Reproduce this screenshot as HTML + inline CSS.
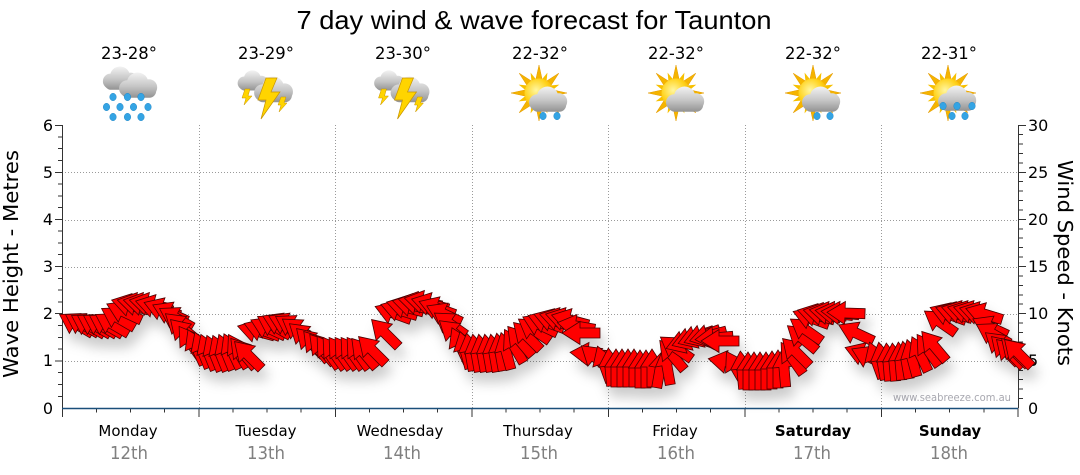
<!DOCTYPE html>
<html><head><meta charset="utf-8"><style>
html,body{margin:0;padding:0;background:#fff;}
svg{display:block;}
text{font-family:"DejaVu Sans","Liberation Sans",sans-serif;}
</style></head><body>
<svg width="1080" height="475" viewBox="0 0 1080 475" xmlns="http://www.w3.org/2000/svg">
<defs>
<linearGradient id="cg" gradientUnits="userSpaceOnUse" x1="0" y1="0" x2="0" y2="26">
<stop offset="0" stop-color="#f4f4f4"/><stop offset="0.55" stop-color="#c4c4c4"/><stop offset="1" stop-color="#8e8e8e"/></linearGradient>
<radialGradient id="sg" cx="0.4" cy="0.4" r="0.7"><stop offset="0" stop-color="#fff6a0"/><stop offset="0.6" stop-color="#ffd21a"/><stop offset="1" stop-color="#f0a800"/></radialGradient>
<g id="cl" fill="url(#cg)">
<circle cx="10" cy="16" r="8"/><circle cx="20" cy="11" r="10.5"/><circle cx="31" cy="15" r="8"/><rect x="4" y="12" width="34" height="13" rx="6.5"/>
</g>
<polygon id="ry" points="-3.5,-12 0,-28 3.5,-12" fill="#f5b400" stroke="#e39a00" stroke-width="0.5"/>
<polygon id="rs" points="-3,-12 0,-22 3,-12" fill="#f7c000"/>
<g id="sun">
<use href="#ry"/><use href="#ry" transform="rotate(45)"/><use href="#ry" transform="rotate(90)"/><use href="#ry" transform="rotate(135)"/><use href="#ry" transform="rotate(180)"/><use href="#ry" transform="rotate(225)"/><use href="#ry" transform="rotate(270)"/><use href="#ry" transform="rotate(315)"/>
<use href="#rs" transform="rotate(22.5)"/><use href="#rs" transform="rotate(67.5)"/><use href="#rs" transform="rotate(112.5)"/><use href="#rs" transform="rotate(157.5)"/><use href="#rs" transform="rotate(202.5)"/><use href="#rs" transform="rotate(247.5)"/><use href="#rs" transform="rotate(292.5)"/><use href="#rs" transform="rotate(337.5)"/>
<circle r="14.5" fill="url(#sg)"/>
</g>
<ellipse id="dr" rx="3.3" ry="3.8" fill="#34a4e4" stroke="#1b7fc0" stroke-width="0.4"/>
<g id="storm">
<use href="#cl" transform="translate(236,70) scale(0.82)"/>
<use href="#cl" transform="translate(252,76) scale(1.05)"/>
<polygon points="266,78 277,78 271,92 280,92 261,119 266,100 258,100" fill="#ffd400" stroke="#c89400" stroke-width="0.7"/>
<polygon points="245,89 250,89 248,96 252,96 244,105 246,98 242,98" fill="#ffd400" stroke="#c89400" stroke-width="0.5"/>
<polygon points="281,97 286,97 284,103 287,103 279,112 281,105 278,105" fill="#ffd400" stroke="#c89400" stroke-width="0.5"/>
</g>
<polygon id="ar" points="19,0 1,-11.5 1,-5 -19,-5 -19,5 1,5 1,11.5" fill="#ff0000" stroke="#4a0000" stroke-width="0.8"/>
<filter id="sh" x="-5%" y="-30%" width="110%" height="180%">
<feDropShadow dx="4" dy="10" stdDeviation="6" flood-color="#000" flood-opacity="0.2"/>
</filter>
</defs>

<rect width="1080" height="475" fill="#fff"/>

<text x="534" y="29" font-size="26" text-anchor="middle" textLength="475" lengthAdjust="spacingAndGlyphs" style="font-family:'Liberation Sans',sans-serif">7 day wind &amp; wave forecast for Taunton</text>

<g font-size="17" text-anchor="middle" fill="#000">
<text x="129" y="59" textLength="56" lengthAdjust="spacingAndGlyphs">23-28°</text>
<text x="266" y="59" textLength="56" lengthAdjust="spacingAndGlyphs">23-29°</text>
<text x="403" y="59" textLength="56" lengthAdjust="spacingAndGlyphs">23-30°</text>
<text x="540" y="59" textLength="56" lengthAdjust="spacingAndGlyphs">22-32°</text>
<text x="676" y="59" textLength="56" lengthAdjust="spacingAndGlyphs">22-32°</text>
<text x="813" y="59" textLength="56" lengthAdjust="spacingAndGlyphs">22-32°</text>
<text x="949" y="59" textLength="56" lengthAdjust="spacingAndGlyphs">22-31°</text>
</g>

<use href="#cl" transform="translate(101,66) scale(0.95)"/>
<use href="#cl" transform="translate(117,72) scale(1.03)"/>
<use href="#dr" x="113" y="97"/><use href="#dr" x="127.5" y="97"/><use href="#dr" x="141" y="97"/>
<use href="#dr" x="106.5" y="107"/><use href="#dr" x="120" y="107"/><use href="#dr" x="133.5" y="107"/><use href="#dr" x="148" y="107"/>
<use href="#dr" x="113" y="117"/><use href="#dr" x="127.5" y="117"/><use href="#dr" x="141" y="117"/>

<use href="#storm"/>
<use href="#storm" transform="translate(136.5,0)"/>

<use href="#sun" transform="translate(539,93)"/>
<use href="#cl" transform="translate(527,86) scale(1.03)"/>
<use href="#dr" x="543" y="116"/><use href="#dr" x="557" y="116"/>

<use href="#sun" transform="translate(676,93)"/>
<use href="#cl" transform="translate(664,86) scale(1.03)"/>

<use href="#sun" transform="translate(813,93)"/>
<use href="#cl" transform="translate(800,86) scale(1.03)"/>
<use href="#dr" x="817" y="116"/><use href="#dr" x="830" y="116"/>

<use href="#sun" transform="translate(948,93)"/>
<use href="#cl" transform="translate(936,85) scale(1.03)"/>
<use href="#dr" x="943" y="106"/><use href="#dr" x="957" y="106"/><use href="#dr" x="972" y="106"/>
<use href="#dr" x="952" y="116"/><use href="#dr" x="965" y="116"/>

<g stroke="#9a9a9a" stroke-width="1" stroke-dasharray="1,2" fill="none">
<path d="M62,361.5H1018M62,314.5H1018M62,267.5H1018M62,220.5H1018M62,172.5H1018"/>
<path d="M199.5,125V408M335.5,125V408M472.5,125V408M608.5,125V408M745.5,125V408M881.5,125V408"/>
</g>

<g stroke="#333" stroke-width="1" fill="none">
<path d="M62.5,125V408M1018.5,125V408"/>
<path d="M55,125.5H62M58,137H62M58,148.5H62M58,160.5H62M55,172.5H62M58,184H62M58,196H62M58,207.5H62M55,219.5H62M58,231H62M58,243H62M58,254.5H62M55,266.5H62M58,278.5H62M58,290H62M58,302H62M55,313.5H62M58,325.5H62M58,337.5H62M58,349H62M55,361H62M58,372.5H62M58,384.5H62M58,396.5H62"/>
<path d="M1018,125.5H1026M1018,134.5H1023M1018,144H1023M1018,153.5H1023M1018,163H1023M1018,172.5H1026M1018,181.5H1023M1018,191H1023M1018,200.5H1023M1018,210H1023M1018,219.5H1026M1018,229H1023M1018,238H1023M1018,247.5H1023M1018,257H1023M1018,266.5H1026M1018,276H1023M1018,285.5H1023M1018,295H1023M1018,304H1023M1018,313.5H1026M1018,323H1023M1018,332.5H1023M1018,342H1023M1018,351.5H1023M1018,361H1026M1018,370.5H1023M1018,379.5H1023M1018,389H1023M1018,398.5H1023"/>
<path d="M62.5,408V417M96.5,408V412.5M130.5,408V412.5M164.5,408V412.5M199,408V417M233,408V412.5M267,408V412.5M301,408V412.5M335.5,408V417M369.5,408V412.5M403.5,408V412.5M437.5,408V412.5M472,408V417M506,408V412.5M540,408V412.5M574,408V412.5M608.5,408V417M642.5,408V412.5M676.5,408V412.5M710.5,408V412.5M745,408V417M779,408V412.5M813,408V412.5M847,408V412.5M881.5,408V417M915.5,408V412.5M949.5,408V412.5M984,408V412.5M1018,408V417"/>
</g>
<path d="M62,408.5H1018" stroke="#1a4f7a" stroke-width="1.6"/>

<g font-size="16" fill="#000" text-anchor="end">
<text x="53" y="131">6</text><text x="53" y="178">5</text><text x="53" y="225">4</text><text x="53" y="272">3</text><text x="53" y="319">2</text><text x="53" y="366">1</text><text x="53" y="414">0</text>
</g>
<g font-size="16" fill="#000">
<text x="1028" y="131">30</text><text x="1028" y="178">25</text><text x="1028" y="225">20</text><text x="1028" y="272">15</text><text x="1028" y="319">10</text><text x="1028" y="366">5</text><text x="1028" y="414">0</text>
</g>
<text transform="translate(18,264) rotate(-90)" font-size="20" text-anchor="middle" textLength="228" lengthAdjust="spacingAndGlyphs">Wave Height - Metres</text>
<text transform="translate(1058,263) rotate(90)" font-size="20" text-anchor="middle" textLength="206" lengthAdjust="spacingAndGlyphs">Wind Speed - Knots</text>

<g font-size="15" text-anchor="middle" fill="#000">
<text x="128" y="436">Monday</text>
<text x="266" y="436">Tuesday</text>
<text x="400" y="436">Wednesday</text>
<text x="538" y="436">Thursday</text>
<text x="675" y="436">Friday</text>
<text x="813" y="436" font-weight="bold">Saturday</text>
<text x="950" y="436" font-weight="bold">Sunday</text>
</g>
<g font-size="18" text-anchor="middle" fill="#808080">
<text x="129" y="459" textLength="38" lengthAdjust="spacingAndGlyphs">12th</text>
<text x="266" y="459" textLength="38" lengthAdjust="spacingAndGlyphs">13th</text>
<text x="402" y="459" textLength="38" lengthAdjust="spacingAndGlyphs">14th</text>
<text x="539" y="459" textLength="38" lengthAdjust="spacingAndGlyphs">15th</text>
<text x="676" y="459" textLength="38" lengthAdjust="spacingAndGlyphs">16th</text>
<text x="812" y="459" textLength="38" lengthAdjust="spacingAndGlyphs">17th</text>
<text x="949" y="459" textLength="38" lengthAdjust="spacingAndGlyphs">18th</text>
</g>
<text x="893" y="401" font-size="11" fill="#a8a8b0" textLength="118" lengthAdjust="spacingAndGlyphs">www.seabreeze.com.au</text>

<g filter="url(#sh)">
<use href="#ar" transform="translate(76,324) rotate(-150)"/>
<use href="#ar" transform="translate(82,324) rotate(-150)"/>
<use href="#ar" transform="translate(88,325) rotate(-150)"/>
<use href="#ar" transform="translate(94,325) rotate(-150)"/>
<use href="#ar" transform="translate(100,325) rotate(-150)"/>
<use href="#ar" transform="translate(106,325) rotate(-150)"/>
<use href="#ar" transform="translate(112,324) rotate(-150)"/>
<use href="#ar" transform="translate(118,318) rotate(-150)"/>
<use href="#ar" transform="translate(124,312) rotate(-155)"/>
<use href="#ar" transform="translate(130,305) rotate(-165)"/>
<use href="#ar" transform="translate(136,304) rotate(-168)"/>
<use href="#ar" transform="translate(142,304) rotate(-168)"/>
<use href="#ar" transform="translate(148,304) rotate(-168)"/>
<use href="#ar" transform="translate(154,306) rotate(-165)"/>
<use href="#ar" transform="translate(162,309) rotate(-160)"/>
<use href="#ar" transform="translate(170,313) rotate(-155)"/>
<use href="#ar" transform="translate(176,318) rotate(-150)"/>
<use href="#ar" transform="translate(180,326) rotate(-140)"/>
<use href="#ar" transform="translate(184,333) rotate(-135)"/>
<use href="#ar" transform="translate(190,342) rotate(-125)"/>
<use href="#ar" transform="translate(196,347) rotate(-115)"/>
<use href="#ar" transform="translate(202,350) rotate(-112)"/>
<use href="#ar" transform="translate(208,352) rotate(-112)"/>
<use href="#ar" transform="translate(214,353) rotate(-112)"/>
<use href="#ar" transform="translate(220,353) rotate(-112)"/>
<use href="#ar" transform="translate(226,352) rotate(-112)"/>
<use href="#ar" transform="translate(232,351) rotate(-115)"/>
<use href="#ar" transform="translate(238,351) rotate(-120)"/>
<use href="#ar" transform="translate(243,353) rotate(-130)"/>
<use href="#ar" transform="translate(248,355) rotate(-135)"/>
<use href="#ar" transform="translate(256,331) rotate(-165)"/>
<use href="#ar" transform="translate(262,330) rotate(-160)"/>
<use href="#ar" transform="translate(268,328) rotate(-155)"/>
<use href="#ar" transform="translate(274,326) rotate(-150)"/>
<use href="#ar" transform="translate(280,324) rotate(-155)"/>
<use href="#ar" transform="translate(286,324) rotate(-155)"/>
<use href="#ar" transform="translate(292,326) rotate(-150)"/>
<use href="#ar" transform="translate(298,330) rotate(-145)"/>
<use href="#ar" transform="translate(304,336) rotate(-140)"/>
<use href="#ar" transform="translate(310,342) rotate(-135)"/>
<use href="#ar" transform="translate(316,346) rotate(-130)"/>
<use href="#ar" transform="translate(322,349) rotate(-130)"/>
<use href="#ar" transform="translate(328,352) rotate(-125)"/>
<use href="#ar" transform="translate(334,353) rotate(-125)"/>
<use href="#ar" transform="translate(340,353) rotate(-125)"/>
<use href="#ar" transform="translate(346,353) rotate(-125)"/>
<use href="#ar" transform="translate(352,353) rotate(-125)"/>
<use href="#ar" transform="translate(358,353) rotate(-125)"/>
<use href="#ar" transform="translate(364,353) rotate(-130)"/>
<use href="#ar" transform="translate(372,350) rotate(-135)"/>
<use href="#ar" transform="translate(393,313) rotate(-160)"/>
<use href="#ar" transform="translate(399,310) rotate(-163)"/>
<use href="#ar" transform="translate(405,307) rotate(-165)"/>
<use href="#ar" transform="translate(411,305) rotate(-167)"/>
<use href="#ar" transform="translate(417,303) rotate(-168)"/>
<use href="#ar" transform="translate(423,302) rotate(-168)"/>
<use href="#ar" transform="translate(430,304) rotate(-165)"/>
<use href="#ar" transform="translate(437,308) rotate(-160)"/>
<use href="#ar" transform="translate(444,314) rotate(-155)"/>
<use href="#ar" transform="translate(385,333) rotate(-135)"/>
<use href="#ar" transform="translate(450,324) rotate(-145)"/>
<use href="#ar" transform="translate(454,333) rotate(-140)"/>
<use href="#ar" transform="translate(460,345) rotate(-115)"/>
<use href="#ar" transform="translate(465,350) rotate(-105)"/>
<use href="#ar" transform="translate(470,352) rotate(-100)"/>
<use href="#ar" transform="translate(476,353) rotate(-100)"/>
<use href="#ar" transform="translate(482,353) rotate(-100)"/>
<use href="#ar" transform="translate(488,353) rotate(-100)"/>
<use href="#ar" transform="translate(494,353) rotate(-100)"/>
<use href="#ar" transform="translate(500,352) rotate(-100)"/>
<use href="#ar" transform="translate(506,351) rotate(-105)"/>
<use href="#ar" transform="translate(514,346) rotate(-120)"/>
<use href="#ar" transform="translate(520,341) rotate(-130)"/>
<use href="#ar" transform="translate(527,336) rotate(-135)"/>
<use href="#ar" transform="translate(534,330) rotate(-145)"/>
<use href="#ar" transform="translate(540,325) rotate(-155)"/>
<use href="#ar" transform="translate(546,322) rotate(-160)"/>
<use href="#ar" transform="translate(552,320) rotate(-162)"/>
<use href="#ar" transform="translate(558,319) rotate(-165)"/>
<use href="#ar" transform="translate(564,319) rotate(-165)"/>
<use href="#ar" transform="translate(570,320) rotate(-165)"/>
<use href="#ar" transform="translate(576,326) rotate(-170)"/>
<use href="#ar" transform="translate(581,333) rotate(-180)"/>
<use href="#ar" transform="translate(589,354) rotate(-175)"/>
<use href="#ar" transform="translate(596,358) rotate(-140)"/>
<use href="#ar" transform="translate(604,364) rotate(-110)"/>
<use href="#ar" transform="translate(610,367) rotate(-95)"/>
<use href="#ar" transform="translate(616,368) rotate(-90)"/>
<use href="#ar" transform="translate(622,368) rotate(-90)"/>
<use href="#ar" transform="translate(628,368) rotate(-90)"/>
<use href="#ar" transform="translate(634,368) rotate(-90)"/>
<use href="#ar" transform="translate(640,369) rotate(-90)"/>
<use href="#ar" transform="translate(646,369) rotate(-90)"/>
<use href="#ar" transform="translate(652,368) rotate(-90)"/>
<use href="#ar" transform="translate(660,369) rotate(-80)"/>
<use href="#ar" transform="translate(667,366) rotate(-100)"/>
<use href="#ar" transform="translate(672,355) rotate(-130)"/>
<use href="#ar" transform="translate(676,348) rotate(-145)"/>
<use href="#ar" transform="translate(684,342) rotate(-200)"/>
<use href="#ar" transform="translate(690,339) rotate(-200)"/>
<use href="#ar" transform="translate(696,337) rotate(-200)"/>
<use href="#ar" transform="translate(702,336) rotate(-200)"/>
<use href="#ar" transform="translate(708,336) rotate(-195)"/>
<use href="#ar" transform="translate(714,338) rotate(-185)"/>
<use href="#ar" transform="translate(720,341) rotate(-180)"/>
<use href="#ar" transform="translate(727,362) rotate(-170)"/>
<use href="#ar" transform="translate(736,368) rotate(-120)"/>
<use href="#ar" transform="translate(742,370) rotate(-95)"/>
<use href="#ar" transform="translate(748,371) rotate(-90)"/>
<use href="#ar" transform="translate(754,371) rotate(-90)"/>
<use href="#ar" transform="translate(760,371) rotate(-90)"/>
<use href="#ar" transform="translate(766,371) rotate(-90)"/>
<use href="#ar" transform="translate(772,370) rotate(-90)"/>
<use href="#ar" transform="translate(778,369) rotate(-90)"/>
<use href="#ar" transform="translate(784,368) rotate(-95)"/>
<use href="#ar" transform="translate(792,358) rotate(-125)"/>
<use href="#ar" transform="translate(796,352) rotate(-135)"/>
<use href="#ar" transform="translate(802,338) rotate(-140)"/>
<use href="#ar" transform="translate(806,330) rotate(-145)"/>
<use href="#ar" transform="translate(811,318) rotate(-160)"/>
<use href="#ar" transform="translate(816,315) rotate(-165)"/>
<use href="#ar" transform="translate(822,314) rotate(-168)"/>
<use href="#ar" transform="translate(828,313) rotate(-170)"/>
<use href="#ar" transform="translate(834,313) rotate(-172)"/>
<use href="#ar" transform="translate(840,313) rotate(-175)"/>
<use href="#ar" transform="translate(846,313) rotate(-178)"/>
<use href="#ar" transform="translate(856,333) rotate(-155)"/>
<use href="#ar" transform="translate(863,354) rotate(-160)"/>
<use href="#ar" transform="translate(869,357) rotate(-155)"/>
<use href="#ar" transform="translate(876,360) rotate(-110)"/>
<use href="#ar" transform="translate(882,361) rotate(-100)"/>
<use href="#ar" transform="translate(888,362) rotate(-95)"/>
<use href="#ar" transform="translate(894,362) rotate(-95)"/>
<use href="#ar" transform="translate(900,361) rotate(-95)"/>
<use href="#ar" transform="translate(906,360) rotate(-100)"/>
<use href="#ar" transform="translate(912,358) rotate(-105)"/>
<use href="#ar" transform="translate(920,354) rotate(-115)"/>
<use href="#ar" transform="translate(928,350) rotate(-125)"/>
<use href="#ar" transform="translate(934,346) rotate(-130)"/>
<use href="#ar" transform="translate(940,322) rotate(-145)"/>
<use href="#ar" transform="translate(948,314) rotate(-160)"/>
<use href="#ar" transform="translate(954,313) rotate(-163)"/>
<use href="#ar" transform="translate(960,312) rotate(-165)"/>
<use href="#ar" transform="translate(966,312) rotate(-165)"/>
<use href="#ar" transform="translate(972,312) rotate(-165)"/>
<use href="#ar" transform="translate(978,313) rotate(-165)"/>
<use href="#ar" transform="translate(984,314) rotate(-163)"/>
<use href="#ar" transform="translate(990,327) rotate(-155)"/>
<use href="#ar" transform="translate(993,334) rotate(-150)"/>
<use href="#ar" transform="translate(1000,345) rotate(-140)"/>
<use href="#ar" transform="translate(1005,350) rotate(-135)"/>
<use href="#ar" transform="translate(1010,353) rotate(-135)"/>
<use href="#ar" transform="translate(1015,352) rotate(-135)"/>
<use href="#ar" transform="translate(1018,353) rotate(-135)"/>
</g>
</svg>
</body></html>
